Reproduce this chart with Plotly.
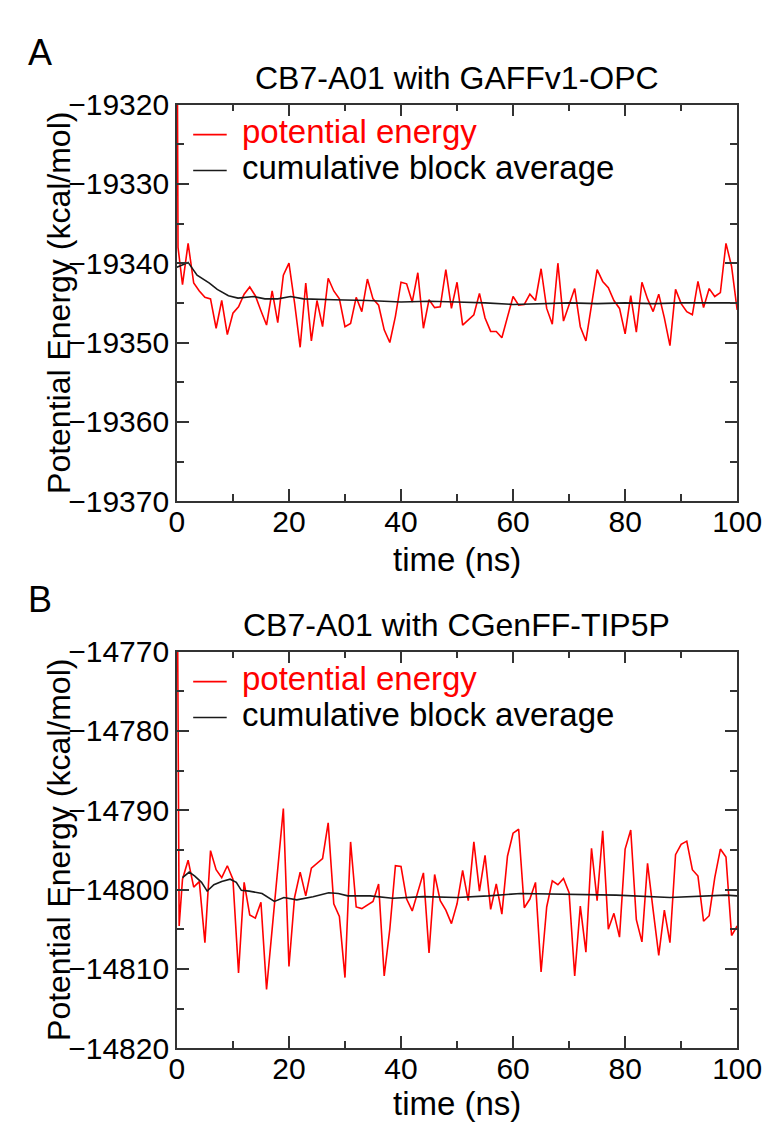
import plotly.graph_objects as go

W, H = 781, 1128

# ---------------- data ----------------
time_a = [0, 0.2] + list(range(1, 101))
energy_a = [
    -19300.0, -19338.0,
    -19342.7, -19337.5, -19342.5, -19343.5, -19344.3, -19344.5, -19348.2, -19344.7, -19349.0, -19346.3,
    -19345.5, -19343.9, -19343.0, -19344.1, -19346.0, -19347.8, -19343.5, -19347.5, -19341.5, -19340.0,
    -19345.0, -19350.6, -19342.5, -19349.8, -19344.7, -19348.0, -19341.9, -19343.5, -19344.5, -19348.0,
    -19347.6, -19344.3, -19346.1, -19342.0, -19344.5, -19345.3, -19348.4, -19350.0, -19346.7, -19342.4,
    -19342.6, -19344.9, -19341.2, -19348.2, -19344.6, -19345.6, -19345.5, -19340.8, -19345.7, -19342.4,
    -19347.8, -19347.1, -19346.5, -19343.8, -19346.9, -19348.6, -19348.6, -19349.4, -19346.9, -19344.2,
    -19345.3, -19345.2, -19343.9, -19344.7, -19340.7, -19345.7, -19347.7, -19340.0, -19347.3, -19345.3,
    -19343.2, -19348.0, -19349.8, -19345.3, -19340.8, -19342.3, -19343.1, -19344.7, -19345.7, -19348.9,
    -19344.1, -19348.7, -19342.4, -19344.5, -19346.1, -19343.9, -19346.9, -19350.4, -19343.3, -19345.1,
    -19346.1, -19346.5, -19342.3, -19345.6, -19343.2, -19344.2, -19343.7, -19337.5, -19340.4, -19345.9,
]
avg_time_a = [0, 1, 2, 3.6, 5.8, 7.2, 9.2, 10.9, 13.7, 15.7, 18, 20.3, 22.6, 28, 34,
              40, 45, 50, 55, 60, 65, 70, 75, 80, 85, 90, 95, 100]
avg_a = [-19340.5, -19340.2, -19339.9, -19341.5, -19342.5, -19343.3, -19344.1, -19344.4,
         -19344.2, -19344.5, -19344.5, -19344.2, -19344.5, -19344.6, -19344.7, -19344.9,
         -19344.8, -19344.9, -19345.0, -19345.2, -19345.1, -19345.0, -19345.1, -19345.0,
         -19345.1, -19345.0, -19345.0, -19345.0]

time_b = [0, 0.4] + list(range(1, 101))
energy_b = [
    -14750.0, -14804.6,
    -14798.7, -14796.3, -14799.7, -14799.0, -14806.7, -14795.1, -14797.5, -14798.5, -14797.0, -14798.7,
    -14810.5, -14799.1, -14803.2, -14803.6, -14801.6, -14812.6, -14805.0, -14797.5, -14789.8, -14809.7,
    -14801.0, -14797.8, -14800.8, -14797.3, -14796.7, -14796.1, -14791.6, -14801.8, -14803.4, -14811.1,
    -14794.0, -14802.2, -14802.4, -14802.0, -14801.5, -14799.3, -14810.9, -14805.0, -14797.0, -14797.1,
    -14801.2, -14802.7, -14800.4, -14797.9, -14808.0, -14798.1, -14801.4, -14802.6, -14804.3, -14801.8,
    -14797.6, -14801.4, -14794.0, -14800.2, -14795.7, -14802.5, -14799.3, -14803.1, -14795.8, -14792.9,
    -14792.4, -14802.3, -14801.2, -14799.1, -14810.4, -14802.2, -14798.9, -14799.4, -14798.6, -14800.4,
    -14810.9, -14802.1, -14807.9, -14794.8, -14801.4, -14792.6, -14805.0, -14803.0, -14806.0, -14794.9,
    -14792.5, -14803.8, -14806.6, -14796.7, -14802.6, -14808.3, -14802.6, -14806.7, -14795.6, -14794.3,
    -14793.9, -14797.5, -14798.3, -14804.0, -14803.3, -14798.5, -14794.9, -14795.9, -14805.8, -14804.6,
]
avg_time_b = [1, 2.2, 3.2, 4.4, 5.4, 6.6, 8, 9.5, 10.6, 11.5, 12.9, 15.2, 17.4, 19.1, 21.4,
              24.3, 27.1, 28.8, 30.5, 34.5, 38.5, 44, 50, 55.6, 61.3, 68.7, 78.4, 88, 98, 100]
avg_b = [-14798.5, -14797.8, -14798.3, -14799.1, -14800.2, -14799.4, -14799.0, -14798.7,
         -14799.1, -14800.1, -14800.2, -14800.5, -14801.5, -14801.0, -14801.3, -14800.9,
         -14800.4, -14800.5, -14800.8, -14800.8, -14801.1, -14800.9, -14801.0, -14800.8,
         -14800.5, -14800.6, -14800.7, -14801.0, -14800.7, -14800.8]

x_ticks = [0, 20, 40, 60, 80, 100]
y_ticks_a = [-19370, -19360, -19350, -19340, -19330, -19320]
y_ticks_b = [-14820, -14810, -14800, -14790, -14780, -14770]

titles = ["CB7-A01 with GAFFv1-OPC", "CB7-A01 with CGenFF-TIP5P"]
panel_labels = ["A", "B"]
series_names = ["potential energy", "cumulative block average"]
x_title = "time (ns)"
y_title = "Potential Energy (kcal/mol)"

# ---------------- layout helpers ----------------
FONT = "Liberation Sans, Arial, sans-serif"
RED = "#ff0000"
BLACK = "#1a1a1a"


def px(x):
    return x / W


def py(y):
    return 1 - y / H


PLOT_L, PLOT_R = 168, 753
TOPS = [82, 646]
PH = 409
XTITLE_Y = [551, 1112]

fig = go.Figure()

fig.add_trace(go.Scatter(x=time_a, y=energy_a, mode="lines", name=series_names[0],
                         line=dict(color=RED, width=1.6), xaxis="x", yaxis="y", showlegend=False))
fig.add_trace(go.Scatter(x=avg_time_a, y=avg_a, mode="lines", name=series_names[1],
                         line=dict(color=BLACK, width=1.6), xaxis="x", yaxis="y", showlegend=False))
fig.add_trace(go.Scatter(x=time_b, y=energy_b, mode="lines", name=series_names[0],
                         line=dict(color=RED, width=1.6), xaxis="x2", yaxis="y2", showlegend=False))
fig.add_trace(go.Scatter(x=avg_time_b, y=avg_b, mode="lines", name=series_names[1],
                         line=dict(color=BLACK, width=1.6), xaxis="x2", yaxis="y2", showlegend=False))


def xaxis(anchor):
    return dict(domain=[px(PLOT_L), px(PLOT_R)], anchor=anchor, range=[0, 100],
                tickvals=x_ticks, ticks="inside", ticklen=12, tickwidth=1.5, tickcolor="#333",
                minor=dict(dtick=10, ticks="inside", ticklen=7, tickwidth=1.5, tickcolor="#333"),
                showline=True, linecolor="#333", linewidth=1.5, mirror="allticks",
                showgrid=False, zeroline=False, ticklabelstandoff=-7,
                tickfont=dict(family=FONT, size=30, color="black"))


def yaxis(anchor, top, ticks):
    return dict(domain=[py(top + PH), py(top)], anchor=anchor, range=[ticks[0], ticks[-1]],
                tickvals=ticks, ticks="inside", ticklen=12, tickwidth=1.5, tickcolor="#333",
                minor=dict(dtick=5, ticks="inside", ticklen=7, tickwidth=1.5, tickcolor="#333"),
                showline=True, linecolor="#333", linewidth=1.5, mirror="allticks",
                showgrid=False, zeroline=False, tickformat="d",
                tickfont=dict(family=FONT, size=30, color="black"))


annotations = []
shapes = []
for i, top in enumerate(TOPS):
    off = top - TOPS[0]
    annotations += [
        dict(text=panel_labels[i], x=px(25), y=py(28 + off), xref="paper", yref="paper",
             showarrow=False, xanchor="center", yanchor="middle",
             font=dict(family=FONT, size=36, color="black")),
        dict(text=titles[i], x=px(460), y=py(55 + off), xref="paper", yref="paper",
             showarrow=False, xanchor="center", yanchor="middle",
             font=dict(family=FONT, size=32, color="black")),
        dict(text=y_title, x=px(45), y=py(top + PH / 2), xref="paper", yref="paper",
             showarrow=False, xanchor="center", yanchor="middle", textangle=-90,
             font=dict(family=FONT, size=32, color="black")),
        dict(text=x_title, x=px(460), y=py(XTITLE_Y[i]), xref="paper", yref="paper",
             showarrow=False, xanchor="center", yanchor="middle", borderpad=0,
             font=dict(family=FONT, size=33, color="black")),
        dict(text=series_names[0], x=px(235), y=py(110 + off), xref="paper", yref="paper",
             showarrow=False, xanchor="left", yanchor="middle", borderpad=0,
             font=dict(family=FONT, size=33, color=RED)),
        dict(text=series_names[1], x=px(235), y=py(147 + off), xref="paper", yref="paper",
             showarrow=False, xanchor="left", yanchor="middle", borderpad=0,
             font=dict(family=FONT, size=33, color="black")),
    ]
    shapes += [
        dict(type="line", xref="paper", yref="paper", x0=px(185), x1=px(220),
             y0=py(113 + off), y1=py(113 + off), line=dict(color=RED, width=1.6)),
        dict(type="line", xref="paper", yref="paper", x0=px(185), x1=px(220),
             y0=py(150 + off), y1=py(150 + off), line=dict(color=BLACK, width=1.6)),
    ]

fig.update_layout(
    width=W, height=H,
    margin=dict(l=0, r=0, t=0, b=0),
    paper_bgcolor="white", plot_bgcolor="white",
    xaxis=xaxis("y"), yaxis=yaxis("x", TOPS[0], y_ticks_a),
    xaxis2=xaxis("y2"), yaxis2=yaxis("x2", TOPS[1], y_ticks_b),
    annotations=annotations, shapes=shapes,
    font=dict(family=FONT, color="black"),
)

fig.write_html("out.html")
